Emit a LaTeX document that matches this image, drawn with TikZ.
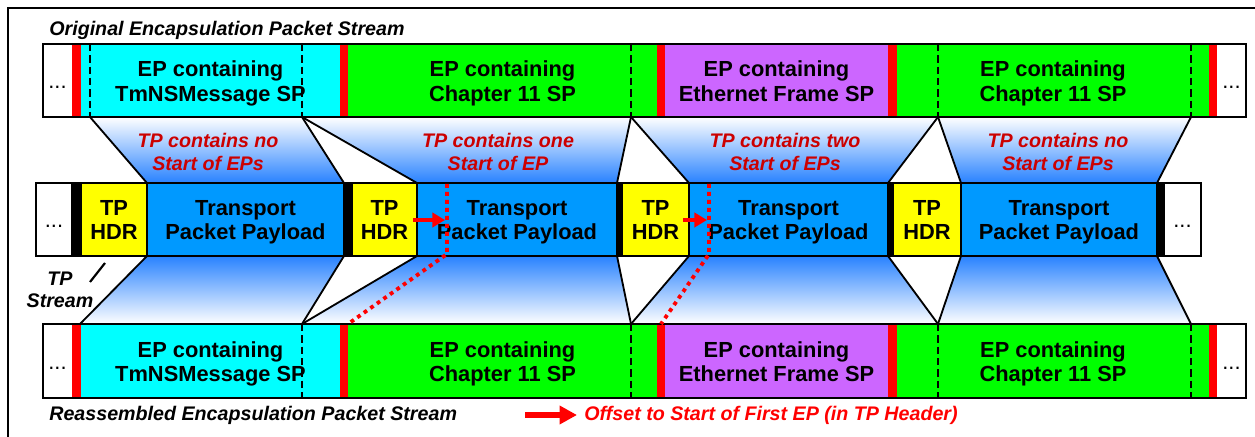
\documentclass[tikz,border=0pt]{standalone}
\usepackage{fontspec}
\setmainfont{Liberation Sans}
\usetikzlibrary{fit,arrows.meta,backgrounds}
\definecolor{epcyan}{RGB}{0,255,255}
\definecolor{epgreen}{RGB}{0,255,0}
\definecolor{eppurple}{RGB}{204,102,255}
\definecolor{epred}{RGB}{255,0,0}
\definecolor{hdryellow}{RGB}{255,255,0}
\definecolor{payblue}{RGB}{0,153,255}
\definecolor{gradblue}{RGB}{40,130,255}
\definecolor{labred}{RGB}{204,0,0}
\newcommand\epfont{\fontsize{13.1}{14.7}\selectfont\bfseries}
\newcommand\itfont{\fontsize{11.8}{13.4}\selectfont\bfseries\itshape}
\newcommand\mydots{{\mdseries ...}}
\newcommand\seg[7]{\node[segbox, fit={(#2,#4) (#3,#5)}, fill=#6] (#1) {};
  \node[eptext] (#1t) at (#1.center) {#7\vphantom{Eg}};}
\newcommand\mseg[7]{\node[segbox, draw=black, line width=1pt, fit={(#2,#4) (#3,#5)}, fill=#6] (#1) {};
  \node[eptext] (#1t) at (#1.center) {#7\vphantom{Eg}};}
\tikzset{
  segbox/.style={inner sep=0pt, outer sep=0pt},
  eptext/.style={inner sep=0pt, align=center, font=\epfont, yshift=-1.8pt},
  rowborder/.style={draw=black, line width=1pt},
  conn/.style={draw=black, line width=1.1pt},
  epdash/.style={draw=black, line width=1.7pt, dash pattern=on 4.4pt off 2.4pt},
  offdot/.style={draw=epred, line width=2.3pt, dash pattern=on 2.3pt off 2.5pt},
  offarrow/.style={draw=epred, line width=2.6pt, -{Triangle[length=7.6pt,width=8.6pt]}},
  legarrow/.style={draw=epred, line width=3.6pt, -{Triangle[length=10.4pt,width=10.6pt]}},
  topband/.style={top color=white, bottom color=gradblue},
  botband/.style={top color=gradblue, bottom color=white},
  tplab/.style={font=\itfont, text=labred, align=center, inner sep=0pt},
  title/.style={font=\itfont, text=black, inner sep=0pt, anchor=west},
}
\begin{document}
\begin{tikzpicture}[x=0.6pt,y=-0.6pt]
\useasboundingbox (0,0) rectangle (1255,437);
% frame
\coordinate (fbl) at (8,437);
\coordinate (ftl) at (8,8);
\coordinate (ftr) at (1255,8);
\draw[line width=1.3pt] (fbl) -- (ftl) -- (ftr);

% ---------- top row ----------
\seg{tw1}{43}{72}{44}{117}{white}{\mydots}
\seg{tr1}{72}{81}{44}{117}{epred}{}
\seg{tc}{81}{340}{44}{117}{epcyan}{EP containing\\TmNSMessage SP}
\seg{tr2}{340}{348}{44}{117}{epred}{}
\seg{tg1}{348}{657}{44}{117}{epgreen}{EP containing\\Chapter 11 SP}
\seg{tr3}{657}{665}{44}{117}{epred}{}
\seg{tpu}{665}{888}{44}{117}{eppurple}{EP containing\\Ethernet Frame SP}
\seg{tr4}{888}{897}{44}{117}{epred}{}
\seg{tg2}{897}{1209}{44}{117}{epgreen}{EP containing\\Chapter 11 SP}
\seg{tr5}{1209}{1217}{44}{117}{epred}{}
\seg{tw2}{1217}{1246}{44}{117}{white}{\mydots}
\draw[rowborder] (tw1.north west) rectangle (tw2.south east);

% ---------- bottom row ----------
\seg{bw1}{43}{72}{324}{398}{white}{\mydots}
\seg{br1}{72}{81}{324}{398}{epred}{}
\seg{bc}{81}{340}{324}{398}{epcyan}{EP containing\\TmNSMessage SP}
\seg{br2}{340}{348}{324}{398}{epred}{}
\seg{bg1}{348}{657}{324}{398}{epgreen}{EP containing\\Chapter 11 SP}
\seg{br3}{657}{665}{324}{398}{epred}{}
\seg{bpu}{665}{888}{324}{398}{eppurple}{EP containing\\Ethernet Frame SP}
\seg{br4}{888}{897}{324}{398}{epred}{}
\seg{bg2}{897}{1209}{324}{398}{epgreen}{EP containing\\Chapter 11 SP}
\seg{br5}{1209}{1217}{324}{398}{epred}{}
\seg{bw2}{1217}{1246}{324}{398}{white}{\mydots}
\draw[rowborder] (bw1.north west) rectangle (bw2.south east);

% ---------- middle row ----------
\mseg{mw1}{36}{72}{183}{256}{white}{\mydots}
\mseg{mk1}{72}{81}{183}{256}{black}{}
\mseg{h1}{81}{147}{183}{256}{hdryellow}{TP\\HDR}
\mseg{p1}{147}{344}{183}{256}{payblue}{Transport\\Packet Payload}
\mseg{mk2}{344}{352}{183}{256}{black}{}
\mseg{h2}{352}{417}{183}{256}{hdryellow}{TP\\HDR}
\mseg{p2}{417}{617}{183}{256}{payblue}{Transport\\Packet Payload}
\mseg{mk3}{617}{622}{183}{256}{black}{}
\mseg{h3}{622}{689}{183}{256}{hdryellow}{TP\\HDR}
\mseg{p3}{689}{888}{183}{256}{payblue}{Transport\\Packet Payload}
\mseg{mk4}{888}{893}{183}{256}{black}{}
\mseg{h4}{893}{961}{183}{256}{hdryellow}{TP\\HDR}
\mseg{p4}{961}{1157}{183}{256}{payblue}{Transport\\Packet Payload}
\mseg{mk5}{1157}{1164}{183}{256}{black}{}
\mseg{mw2}{1164}{1201}{183}{256}{white}{\mydots}

% dashed boundary points
\coordinate (d1t) at (90,117);  \coordinate (d1tt) at (90,44);
\coordinate (d2t) at (302,117); \coordinate (d2tt) at (302,44);
\coordinate (d3t) at (631,117); \coordinate (d3tt) at (631,44);
\coordinate (d4t) at (938,117); \coordinate (d4tt) at (938,44);
\coordinate (d5t) at (1191,117);\coordinate (d5tt) at (1191,44);
\coordinate (e1b) at (80,324);
\coordinate (e2b) at (302,324); \coordinate (e2bb) at (302,398);
\coordinate (e3b) at (631,324); \coordinate (e3bb) at (631,398);
\coordinate (e4b) at (938,324); \coordinate (e4bb) at (938,398);
\coordinate (e5b) at (1191,324);\coordinate (e5bb) at (1191,398);

% gradient bands
\begin{scope}[on background layer]
\shade[topband] (d1t) -- (d2t) -- (p1.north east) -- (p1.north west) -- cycle;
\shade[topband] (d2t) -- (d3t) -- (p2.north east) -- (h2.north east) -- cycle;
\shade[topband] (d3t) -- (d4t) -- (p3.north east) -- (h3.north east) -- cycle;
\shade[topband] (d4t) -- (d5t) -- (p4.north east) -- (h4.north east) -- cycle;
\shade[botband] (p1.south west) -- (p1.south east) -- (e2b) -- (e1b) -- cycle;
\shade[botband] (h2.south east) -- (p2.south east) -- (e3b) -- (e2b) -- cycle;
\shade[botband] (h3.south east) -- (p3.south east) -- (e4b) -- (e3b) -- cycle;
\shade[botband] (h4.south east) -- (p4.south east) -- (e5b) -- (e4b) -- cycle;
\end{scope}

% connector lines
\draw[conn] (d1t) -- (p1.north west);
\draw[conn] (d2t) -- (p1.north east);
\draw[conn] (d2t) -- (h2.north east);
\draw[conn] (d3t) -- (p2.north east);
\draw[conn] (d3t) -- (h3.north east);
\draw[conn] (d4t) -- (p3.north east);
\draw[conn] (d4t) -- (h4.north east);
\draw[conn] (d5t) -- (p4.north east);
\draw[conn] (p1.south west) -- (e1b);
\draw[conn] (p1.south east) -- (e2b);
\draw[conn] (h2.south east) -- (e2b);
\draw[conn] (p2.south east) -- (e3b);
\draw[conn] (h3.south east) -- (e3b);
\draw[conn] (p3.south east) -- (e4b);
\draw[conn] (h4.south east) -- (e4b);
\draw[conn] (p4.south east) -- (e5b);

% dashed lines
\draw[epdash] (d1tt) -- (d1t);
\draw[epdash] (d2tt) -- (d2t);
\draw[epdash] (d3tt) -- (d3t);
\draw[epdash] (d4tt) -- (d4t);
\draw[epdash] (d5tt) -- (d5t);
\draw[epdash] (e2b) -- (e2bb);
\draw[epdash] (e3b) -- (e3bb);
\draw[epdash] (e4b) -- (e4bb);
\draw[epdash] (e5b) -- (e5bb);

% offsets
\coordinate (o1a) at (447,184);
\coordinate (o1b) at (447,254);
\coordinate (o2a) at (709,184);
\coordinate (o2b) at (709,254);
\draw[offdot] (o1a) -- (o1b) -- (br2.north east);
\draw[offdot] (o2a) -- (o2b) -- (br3.north);
\coordinate (a1s) at (413,220);
\coordinate (a1e) at (445,220);
\coordinate (a2s) at (683,220);
\coordinate (a2e) at (707,220);
\draw[offarrow] (a1s) -- (a1e);
\draw[offarrow] (a2s) -- (a2e);

% labels
\node[tplab] (l1) at (208,152) {TP contains no\\Start of EPs};
\node[tplab] (l2) at (498,152) {TP contains one\\Start of EP};
\node[tplab] (l3) at (785,152) {TP contains two\\Start of EPs};
\node[tplab] (l4) at (1058,152) {TP contains no\\Start of EPs};

\node[font=\itfont, align=center, inner sep=0pt] (tps) at (60,290) {TP\\Stream};
\coordinate (sl1) at (105,263);
\coordinate (sl2) at (90,282);
\draw[line width=1.3pt] (sl1) -- (sl2);

\node[title] (ttop) at (49,30) {Original Encapsulation Packet Stream};
\node[title] (tbot) at (49,415) {Reassembled Encapsulation Packet Stream};
\node[title, text=epred] (leg) at (584,415) {Offset to Start of First EP (in TP Header)};
\coordinate (la1) at (525,415);
\coordinate (la2) at (577,415);
\draw[legarrow] (la1) -- (la2);
\end{tikzpicture}
\end{document}
